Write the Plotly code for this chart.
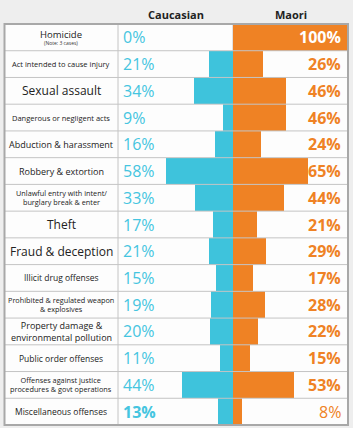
import plotly.graph_objects as go

categories = [
    "Homicide", "Act intended to cause injury", "Sexual assault",
    "Dangerous or negligent acts", "Abduction & harassment",
    "Robbery & extortion", "Unlawful entry with intent/<br>burglary break & enter",
    "Theft", "Fraud & deception", "Illicit drug offenses",
    "Prohibited & regulated weapon<br>& explosives",
    "Property damage &<br>environmental pollution", "Public order offenses",
    "Offenses against justice<br>procedures & govt operations",
    "Miscellaneous offenses",
]
caucasian = [0, 21, 34, 9, 16, 58, 33, 17, 21, 15, 19, 20, 11, 44, 13]
maori = [100, 26, 46, 46, 24, 65, 44, 21, 29, 17, 28, 22, 15, 53, 8]
series_names = ["Caucasian", "Maori"]
homicide_note = "(Note: 3 cases)"

label_sizes = [9.5, 7.5, 12, 7.5, 9, 9, 7.3, 12, 12, 8.5, 7.3, 9, 8.5, 7.3, 8.5]

BLUE = "#3ec3dc"
BLUE_TXT = "#45c5e0"
ORANGE = "#ef8224"
GRID = "#c4c4c4"
BORDER = "#a8a8a8"
FONT = "Open Sans"

fig = go.Figure()
fig.add_trace(go.Bar(
    y=categories, x=[-v for v in caucasian], orientation="h",
    marker=dict(color=BLUE, line=dict(width=0)), name=series_names[0],
    hoverinfo="skip",
))
fig.add_trace(go.Bar(
    y=categories, x=maori, orientation="h",
    marker=dict(color=ORANGE, line=dict(width=0)), name=series_names[1],
    hoverinfo="skip",
))

L, R, T, B = 118, 5, 24, 3
W, H = 353, 428
pw = W - L - R
ph = H - T - B
label_left = (4.5 - L) / pw
label_center = (61 - L) / pw

ann = []
n = len(categories)
for i, cat in enumerate(categories):
    c, m = caucasian[i], maori[i]
    c_bold = c > m
    m_bold = m >= c
    ann.append(dict(
        x=-100, y=cat, xref="x", yref="y", xanchor="left", yanchor="middle",
        xshift=3, showarrow=False,
        text=(f"<b>{c}%</b>" if c_bold else f"{c}%"),
        font=dict(family=FONT, size=16, color=BLUE_TXT),
    ))
    ann.append(dict(
        x=100, y=cat, xref="x", yref="y", xanchor="right", yanchor="middle",
        xshift=-5, showarrow=False,
        text=(f"<b>{m}%</b>" if m_bold else f"{m}%"),
        font=dict(family=FONT, size=16, color=("white" if m >= 90 else ORANGE)),
    ))
    ann.append(dict(
        x=label_center, y=cat, xref="paper", yref="y", xanchor="center",
        yanchor="middle", showarrow=False, text=cat,
        yshift=(3 if i == 0 else 0),
        font=dict(family=FONT, size=label_sizes[i], color="#222222"),
    ))
ann.append(dict(
    x=label_center, y=categories[0], xref="paper", yref="y", xanchor="center",
    yanchor="middle", showarrow=False, text=homicide_note, yshift=-6,
    font=dict(family=FONT, size=5, color="#333333"),
))
for k, name in enumerate(series_names):
    ann.append(dict(
        x=(0.25 if k == 0 else 0.75), y=1 + (T - 14) / ph, xref="paper", yref="paper",
        xanchor="center", yanchor="middle", showarrow=False,
        text=f"<b>{name}</b>", font=dict(family=FONT, size=11, color="#222222"),
    ))

shapes = [
    dict(type="rect", xref="paper", yref="paper", x0=label_left, x1=0, y0=0, y1=1,
         fillcolor="#fdfdfd", line=dict(width=0), layer="below"),
    dict(type="line", xref="paper", yref="paper", x0=0.5, x1=0.5, y0=0, y1=1,
         line=dict(color=GRID, width=1), layer="below"),
]
for i in range(1, n):
    yy = 1 - i / n
    shapes.append(dict(type="line", xref="paper", yref="paper", x0=label_left, x1=1,
                       y0=yy, y1=yy, line=dict(color=GRID, width=1), layer="above"))
shapes.append(dict(type="line", xref="paper", yref="paper", x0=0, x1=0, y0=0, y1=1,
                   line=dict(color=GRID, width=1), layer="above"))
shapes.append(dict(type="rect", xref="paper", yref="paper", x0=label_left, x1=1,
                   y0=0, y1=1, line=dict(color=BORDER, width=2), layer="above"))

fig.update_layout(
    width=W, height=H, margin=dict(l=L, r=R, t=T, b=B),
    paper_bgcolor="#eeeeee", plot_bgcolor="#fdfdfd",
    barmode="overlay", bargap=0, showlegend=False,
    xaxis=dict(range=[-100, 100], visible=False, fixedrange=True),
    yaxis=dict(range=[n - 0.5, -0.5], visible=False, fixedrange=True,
               categoryorder="array", categoryarray=categories),
    annotations=ann, shapes=shapes,
)
fig.write_html("out.html", config={"displayModeBar": False})
